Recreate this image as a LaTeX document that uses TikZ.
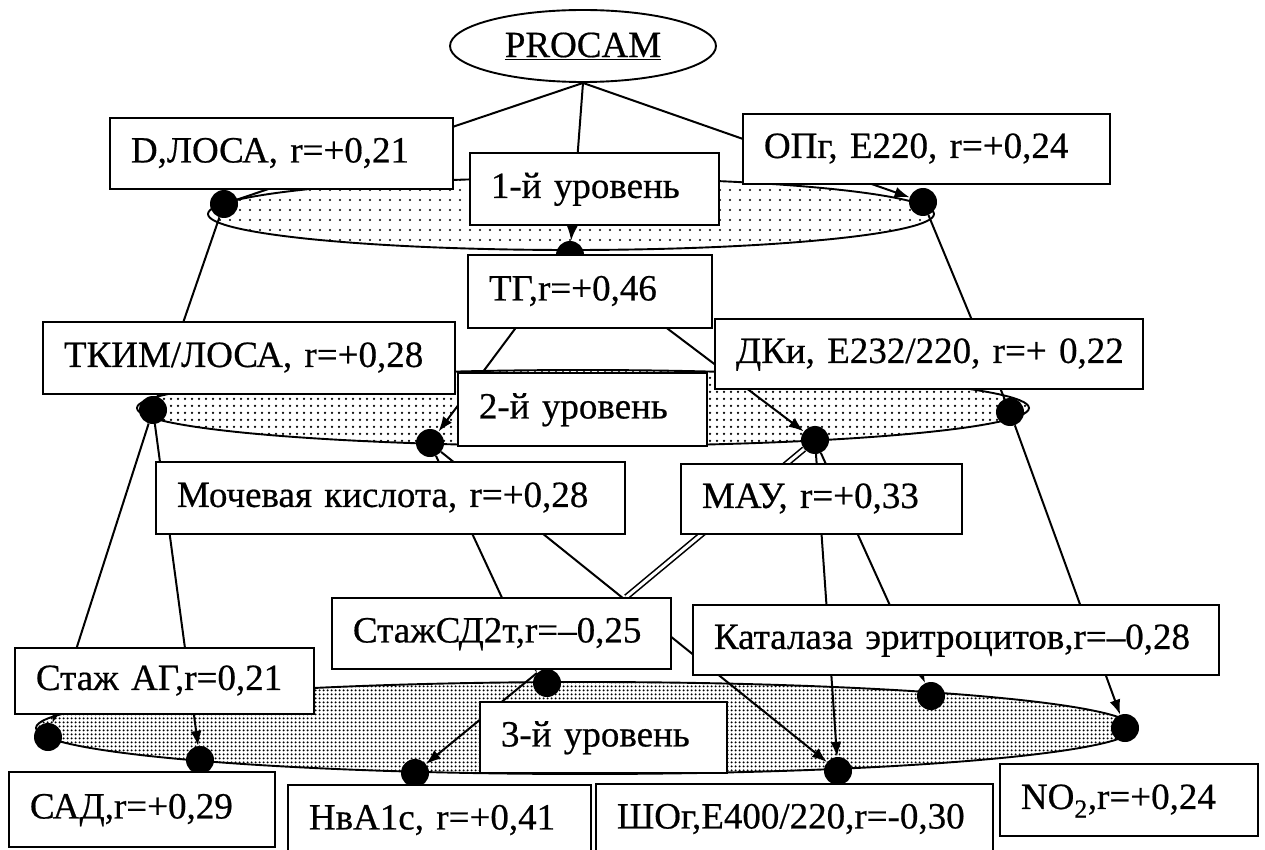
\documentclass[tikz,border=0pt]{standalone}
\usepackage{fontspec}
\setmainfont{Liberation Serif}
\newfontfamily\diafont{Liberation Serif}[FakeBold=0.5]
\usetikzlibrary{shapes.geometric,arrows.meta,patterns.meta,calc}
\pgfdeclarelayer{back}
\pgfdeclarelayer{mid}
\pgfsetlayers{back,mid,main}
\begin{document}
\begin{tikzpicture}[x=1pt,y=-1pt,
  box/.style={draw, line width=1.9pt, fill=white, anchor=north west,
    font=\diafont\fontsize{37}{44}\selectfont, inner xsep=21pt, inner ysep=0pt,
    align=left, text height=26pt, text depth=8pt},
  lev/.style={draw, ellipse, line width=1.9pt, inner sep=0pt},
  dot/.style={circle, fill=black, inner sep=0pt, minimum size=28pt},
  con/.style={line width=2pt},
  arr/.style={con, -{Latex[length=15pt,width=11pt]}},
  dbl/.style={line width=1.6pt, double=white, double distance=3pt}]
\useasboundingbox (0,0) rectangle (1265,850);
% level ellipses
\begin{pgfonlayer}{back}
\node[lev, minimum width=726pt, minimum height=72pt,
  pattern={Dots[distance=10pt,radius=1.2pt]}] (e1) at (571,214) {};
\node[lev, minimum width=892pt, minimum height=76pt,
  pattern={Dots[distance=6.5pt,radius=1.35pt]}] (e2) at (583,408) {};
\node[lev, minimum width=1098pt, minimum height=92pt,
  pattern={Dots[distance=4pt,radius=1.35pt]}] (e3) at (585,728) {};
\end{pgfonlayer}
% top node
\node[draw, ellipse, line width=1.9pt, fill=white, minimum width=266pt,
  minimum height=72pt, inner sep=0pt, font=\diafont\fontsize{37}{44}\selectfont]
  (procam) at (583,46) {\underline{PROCAM}};
% dots
\node[dot] (d1L) at (224,204) {};
\node[dot] (d1M) at (570,255) {};
\node[dot] (d1R) at (923,202) {};
\node[dot] (d2L) at (153,410) {};
\node[dot] (d2a) at (430,443) {};
\node[dot] (d2b) at (815,440) {};
\node[dot] (d2R) at (1010,412) {};
\node[dot] (d3L) at (48,737) {};
\node[dot] (d3SAD) at (200,760) {};
\node[dot] (d3c) at (547,683) {};
\node[dot] (d3N) at (415,773) {};
\node[dot] (d3K) at (931,696) {};
\node[dot] (d3S) at (838,771) {};
\node[dot] (d3NO) at (1125,728) {};
% boxes
\node[box, text width=301pt, minimum height=71pt] (dl) at (109,117) {\mbox{D,ЛОСА, r=+0,21}};
\node[box, text width=325pt, minimum height=70pt] (op) at (742,113) {\mbox{ОПг, Е220, r=+0,24}};
\node[box, text width=207pt, minimum height=72pt] (l1) at (469,152) {\mbox{1-й уровень}};
\node[box, text width=202pt, minimum height=73pt] (tg) at (467,254) {\mbox{ТГ,r=+0,46}};
\node[box, text width=370pt, minimum height=72pt] (tk) at (42,321) {\mbox{ТКИМ/ЛОСА, r=+0,28}};
\node[box, text width=386pt, minimum height=70pt] (dk) at (714,318) {\mbox{ДКи, Е232/220, r=+ 0,22}};
\node[box, text width=207pt, minimum height=73pt] (l2) at (457,372) {\mbox{2-й уровень}};
\node[box, text width=427pt, minimum height=72pt] (mk) at (155,461) {\mbox{Мочевая кислота, r=+0,28}};
\node[box, text width=239pt, minimum height=70pt] (ma) at (680,463) {\mbox{МАУ, r=+0,33}};
\node[box, text width=297pt, minimum height=71pt] (sd) at (331,597) {\mbox{СтажСД2т,r=–0,25}};
\node[box, text width=484pt, minimum height=70pt] (ka) at (692,604) {\mbox{Каталаза эритроцитов,r=–0,28}};
\node[box, text width=257pt, minimum height=66pt] (sa) at (14,647) {\mbox{Стаж АГ,r=0,21}};
\node[box, text width=205pt, minimum height=71pt] (l3) at (479,701) {\mbox{3-й уровень}};
\node[box, text width=224pt, minimum height=75pt] (sad) at (8,771) {\mbox{САД,r=+0,29}};
\node[box, text width=261pt, minimum height=71pt] (hb) at (287,784) {\mbox{НвА1с, r=+0,41}};
\node[box, text width=355pt, minimum height=71pt] (sh) at (595,783) {\mbox{ШОг,Е400/220,r=-0,30}};
\node[box, text width=216pt, minimum height=72pt] (no) at (999,763) {\mbox{NO\textsubscript{2},r=+0,24}};
% connectors (behind dots and boxes)
\begin{pgfonlayer}{mid}
\draw[con] (procam.south) -- (d1L);
\draw[arr] (procam.south) -- (d1M);
\draw[arr] (procam.south) -- (d1R);
\draw[con] (d1L) -- (d2L);
\draw[arr] (d1M) -- (d2a);
\draw[arr] (d1M) -- (d2b);
\draw[con] (d1R) -- (d2R);
\draw[arr] (d2L) -- (d3L);
\draw[arr] (d2L) -- (d3SAD);
\draw[arr] (d2a) -- (d3c.135);
\draw[arr] (d2a) -- (d3S);
\draw[dbl] (d2b) -- ($(sd.north west)!0.866!(sd.north east)$);
\draw[arr] (d2b) -- (d3S);
\draw[arr] (d2b) -- (d3K);
\draw[arr] (d2R) -- (d3NO);
\draw[arr] (d3c.135) -- (d3N);
\end{pgfonlayer}
\end{tikzpicture}
\end{document}
